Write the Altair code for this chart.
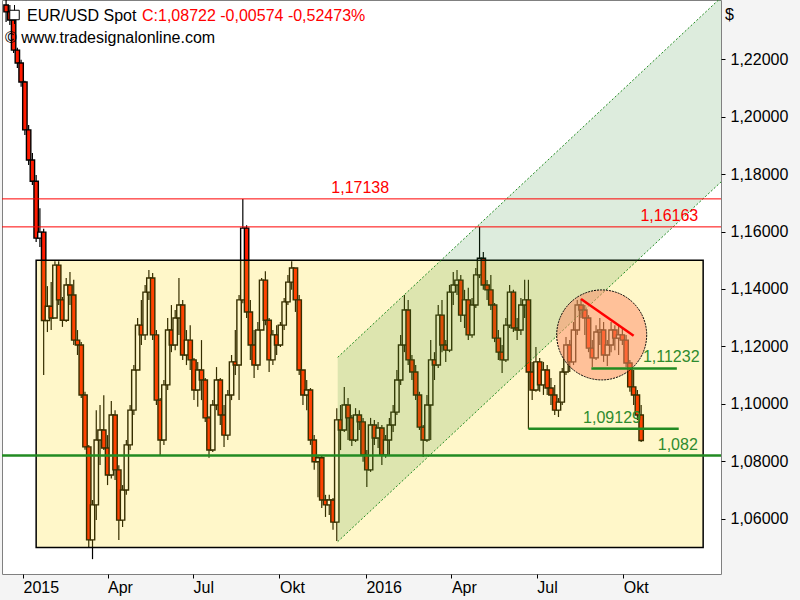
import altair as alt
import pandas as pd

# ---------------- data ----------------
candle_start = "2014-12-14"
candle_step_days = 4
first_open = 1.2389
closes = [1.2365, 1.2337, 1.2232, 1.2187, 1.2121, 1.1954, 1.1849, 1.1775, 1.1577, 1.1598,
          1.1290, 1.1340, 1.1299, 1.1483, 1.1362, 1.1291, 1.1414, 1.1379, 1.1222, 1.1205,
          1.1031, 1.0850, 1.0526, 1.0648, 1.0874, 1.0909, 1.0846, 1.0752, 1.0961, 1.0770,
          1.0595, 1.0700, 1.0857, 1.0978, 1.1118, 1.1274, 1.1240, 1.1389, 1.1438, 1.1240,
          1.1013, 1.0874, 1.1066, 1.1257, 1.1205, 1.1299, 1.1344, 1.1170, 1.1222, 1.1153,
          1.1048, 1.1118, 1.1083, 1.0951, 1.0839, 1.0996, 1.1083, 1.0961, 1.0891, 1.1031,
          1.1146, 1.1135, 1.1362, 1.1612, 1.1320, 1.1205, 1.1135, 1.1257, 1.1431, 1.1291,
          1.1153, 1.1240, 1.1205, 1.1274, 1.1355, 1.1424, 1.1473, 1.1362, 1.1118, 1.1031,
          1.1048, 1.0874, 1.0798, 1.0812, 1.0665, 1.0648, 1.0665, 1.0588, 1.0944, 1.0909,
          1.0996, 1.0951, 1.0874, 1.0961, 1.0937, 1.0822, 1.0770, 1.0926, 1.0881, 1.0916,
          1.0822, 1.0874, 1.0926, 1.0971, 1.1083, 1.1205, 1.1327, 1.1153, 1.1111, 1.1031,
          1.0919, 1.0874, 1.0996, 1.1153, 1.1135, 1.1309, 1.1205, 1.1187, 1.1389, 1.1414,
          1.1431, 1.1309, 1.1362, 1.1240, 1.1344, 1.1449, 1.1507, 1.1414, 1.1397, 1.1344,
          1.1229, 1.1180, 1.1153, 1.1274, 1.1389, 1.1264, 1.1257, 1.1344, 1.1362, 1.1111,
          1.1048, 1.1146, 1.1066, 1.1118, 1.1055, 1.1031, 1.0978, 1.1006, 1.1111, 1.1205,
          1.1146, 1.1257, 1.1344, 1.1327, 1.1299, 1.1194, 1.1160, 1.1250, 1.1257, 1.1170,
          1.1205, 1.1257, 1.1229, 1.1240, 1.1222, 1.1142, 1.1059, 1.1031, 1.0961, 1.08722]
highs = [1.2407, 1.2389, 1.2345, 1.2240, 1.2198, 1.2125, 1.1971, 1.1874, 1.1797, 1.1681,
         1.1610, 1.1410, 1.1424, 1.1497, 1.1497, 1.1372, 1.1438, 1.1459, 1.1432, 1.1257,
         1.1215, 1.1042, 1.0857, 1.0665, 1.0978, 1.0996, 1.1030, 1.0891, 1.1010, 1.0978,
         1.0786, 1.0717, 1.0874, 1.0996, 1.1135, 1.1299, 1.1362, 1.1414, 1.1466, 1.1456,
         1.1257, 1.1020, 1.1083, 1.1299, 1.1344, 1.1327, 1.1438, 1.1362, 1.1257, 1.1274,
         1.1160, 1.1146, 1.1222, 1.1090, 1.0958, 1.1013, 1.1128, 1.1090, 1.0996, 1.1048,
         1.1170, 1.1257, 1.1379, 1.17138, 1.1622, 1.1362, 1.1257, 1.1285, 1.1438, 1.1462,
         1.1299, 1.1257, 1.1274, 1.1285, 1.1369, 1.1449, 1.1497, 1.1473, 1.1379, 1.1118,
         1.1083, 1.1055, 1.0891, 1.0822, 1.0822, 1.0683, 1.0683, 1.0672, 1.0985, 1.0996,
         1.1059, 1.1020, 1.0961, 1.0985, 1.0978, 1.0951, 1.0839, 1.0951, 1.0944, 1.0937,
         1.0926, 1.0891, 1.0951, 1.0996, 1.1118, 1.1240, 1.1379, 1.1362, 1.1170, 1.1135,
         1.1042, 1.0926, 1.1031, 1.1222, 1.1180, 1.1344, 1.1362, 1.1222, 1.1414, 1.1459,
         1.1466, 1.1449, 1.1397, 1.1404, 1.1369, 1.1473, 1.16163, 1.1529, 1.1431, 1.1449,
         1.1351, 1.1257, 1.1205, 1.1299, 1.1414, 1.1397, 1.1299, 1.1369, 1.1432, 1.1432,
         1.1146, 1.1198, 1.1160, 1.1146, 1.1135, 1.1090, 1.1066, 1.1020, 1.1125, 1.1233,
         1.1222, 1.1285, 1.1362, 1.1366, 1.1344, 1.1309, 1.1222, 1.1274, 1.1299, 1.1285,
         1.1222, 1.1285, 1.1274, 1.1274, 1.1264, 1.1240, 1.1153, 1.1118, 1.1048, 1.0996]
lows = [1.2330, 1.2319, 1.2222, 1.2170, 1.2104, 1.1936, 1.1832, 1.1762, 1.1564, 1.1546,
        1.1100, 1.1250, 1.1257, 1.1299, 1.1344, 1.1268, 1.1285, 1.1344, 1.1205, 1.1170,
        1.1020, 1.0840, 1.0498, 1.0459, 1.0595, 1.0787, 1.0839, 1.0717, 1.0740, 1.0735,
        1.0526, 1.0571, 1.0683, 1.0839, 1.0961, 1.1118, 1.1205, 1.1222, 1.1362, 1.1222,
        1.0996, 1.0822, 1.0857, 1.1048, 1.1180, 1.1187, 1.1240, 1.1153, 1.1135, 1.1118,
        1.1013, 1.0990, 1.1013, 1.0937, 1.0812, 1.0832, 1.0978, 1.0926, 1.0850, 1.0874,
        1.1013, 1.1100, 1.1013, 1.1350, 1.1299, 1.1153, 1.1090, 1.1118, 1.1257, 1.1274,
        1.1111, 1.1135, 1.1170, 1.1198, 1.1257, 1.1344, 1.1397, 1.1320, 1.1100, 1.0996,
        1.0978, 1.0857, 1.0770, 1.0675, 1.0637, 1.0606, 1.0613, 1.0561, 1.0522, 1.0839,
        1.0902, 1.0874, 1.0853, 1.0867, 1.0909, 1.0798, 1.0710, 1.0763, 1.0857, 1.0846,
        1.0787, 1.0812, 1.0822, 1.0902, 1.0961, 1.1066, 1.1180, 1.1135, 1.1083, 1.1013,
        1.0909, 1.0815, 1.0867, 1.0874, 1.1083, 1.1125, 1.1180, 1.1146, 1.1180, 1.1344,
        1.1379, 1.1285, 1.1264, 1.1222, 1.1230, 1.1334, 1.1438, 1.1397, 1.1362, 1.1327,
        1.1215, 1.1153, 1.1107, 1.1146, 1.1264, 1.1250, 1.1222, 1.1240, 1.1299, 1.09129,
        1.1013, 1.1042, 1.1042, 1.1031, 1.1031, 1.0996, 1.0961, 1.0954, 1.0996, 1.1100,
        1.1111, 1.1135, 1.1240, 1.1299, 1.1240, 1.1180, 1.1128, 1.1153, 1.1205, 1.1146,
        1.1132, 1.1180, 1.1187, 1.1170, 1.1205, 1.1128, 1.1042, 1.0996, 1.0944, 1.0867]

box_dates = ["2015-01-15", "2016-12-25"]
box_values = [1.05, 1.15]

channel_dates = ["2015-12-02", "2017-01-15"]
channel_lower = [1.0520, 1.1779]
channel_upper = [1.1162, 1.2421]

red_levels = [1.17138, 1.16163]
green_level_full = 1.082
green_seg_values = [1.11232, 1.09129]
green_seg_start = ["2016-08-28", "2016-06-22"]
green_seg_end = ["2016-11-27", "2016-11-29"]

trend_dates = ["2016-08-17", "2016-10-12"]
trend_values = [1.1365, 1.1237]

circle_date = "2016-09-08"
circle_value = 1.1240

label_texts = ["1,17138", "1,16163", "1,11232", "1,09129", "1,082"]
label_dates = ["2015-12-26", "2016-11-19", "2016-11-21", "2016-09-19", "2016-11-28"]
label_values = [1.17138, 1.16163, 1.11232, 1.09129, 1.082]
label_colors = ["#ff0000", "#ff0000", "#2e8b2e", "#2e8b2e", "#2e8b2e"]

x_tick_dates = ["2015-01-01", "2015-04-01", "2015-07-01", "2015-10-01",
                "2016-01-01", "2016-04-01", "2016-07-01", "2016-10-01"]
x_tick_labels = ["2015", "Apr", "Jul", "Okt", "2016", "Apr", "Jul", "Okt"]
y_ticks = [1.06, 1.08, 1.10, 1.12, 1.14, 1.16, 1.18, 1.20, 1.22]

title_name = "EUR/USD Spot"
title_quote = "C:1,08722 -0,00574 -0,52473%"
source_text = "\u00a9 www.tradesignalonline.com"

# ---------------- build tables ----------------
REF = pd.Timestamp("2015-01-01")


def dnum(s):
    return float((pd.Timestamp(s) - REF).days)


dates = pd.date_range(candle_start, periods=len(closes), freq=f"{candle_step_days}D")
opens = [first_open] + closes[:-1]
candles = pd.DataFrame({
    "day": [float((d - REF).days) for d in dates],
    "open": opens,
    "close": closes,
    "high": [max(h, o, c) for h, o, c in zip(highs, opens, closes)],
    "low": [min(l, o, c) for l, o, c in zip(lows, opens, closes)],
})
candles["bot"] = candles[["open", "close"]].min(axis=1)
candles["top"] = candles[["open", "close"]].max(axis=1)

xs = alt.Scale(domain=[-22.35, 743.0], nice=False, zero=False, padding=0)
ys = alt.Scale(domain=[1.04073, 1.24065], nice=False, zero=False, padding=0)

tick_days = [dnum(s) for s in x_tick_dates]
x_label_expr = "[" + ",".join("'%s'" % t for t in x_tick_labels) + "][indexof([" + \
    ",".join("%g" % d for d in tick_days) + "], datum.value)]"

FONT = "Liberation Sans"

x_axis = alt.Axis(values=tick_days, labelExpr=x_label_expr, orient="bottom",
                  tickSize=4, tickColor="#000000", labelAlign="left", labelBaseline="top",
                  labelPadding=1, labelFontSize=16, labelFont=FONT, labelColor="#000000",
                  domain=False, grid=False, title=None, labelOverlap=False, labelFlush=False)
y_axis = alt.Axis(values=y_ticks, orient="right", labelExpr="replace(format(datum.value, '.5f'), '.', ',')",
                  tickSize=4, tickColor="#000000", labelPadding=5, labelFontSize=16, labelFont=FONT,
                  labelColor="#000000", domain=False, grid=False, title=None, labelOverlap=False)


def X(f):
    return alt.X(f, type="quantitative", scale=xs, axis=x_axis)


def Y(f):
    return alt.Y(f, type="quantitative", scale=ys, axis=y_axis)


# candles
wicks = alt.Chart(candles).mark_rule(color="#000000", strokeWidth=1.2, clip=True).encode(
    x=X("day"), y=Y("low"), y2="high")
bodies = alt.Chart(candles).mark_bar(size=4.4, stroke="#000000", strokeWidth=1.4, clip=True).encode(
    x=X("day"), y=Y("bot"), y2="top",
    fill=alt.condition("datum.close < datum.open", alt.value("#ff1a00"), alt.value("#ffffff")))

# yellow box (semi-transparent overlay)
box_df = pd.DataFrame({"x1": [dnum(box_dates[0])], "x2": [dnum(box_dates[1])],
                       "y1": [box_values[0]], "y2": [box_values[1]]})
box = alt.Chart(box_df).mark_rect(fill="#ffd700", fillOpacity=0.21, stroke="#000000",
                                  strokeWidth=1.5, clip=True).encode(
    x=X("x1"), x2="x2", y=Y("y1"), y2="y2")

# channel
ch_df = pd.DataFrame({"day": [dnum(s) for s in channel_dates], "lo": channel_lower, "hi": channel_upper})
channel = alt.Chart(ch_df).mark_area(color="#2e8b2e", opacity=0.16, clip=True).encode(
    x=X("day"), y=Y("lo"), y2="hi")
ch_lo = alt.Chart(ch_df).mark_line(color="#228b22", strokeWidth=1, strokeDash=[2, 2], clip=True).encode(
    x=X("day"), y=Y("lo"))
ch_hi = alt.Chart(ch_df).mark_line(color="#228b22", strokeWidth=1, strokeDash=[2, 2], clip=True).encode(
    x=X("day"), y=Y("hi"))

# circle
circ_df = pd.DataFrame({"day": [dnum(circle_date)], "v": [circle_value]})
circle = alt.Chart(circ_df).mark_point(shape="circle", size=8100, filled=True, fill="#ff8c69",
                                       fillOpacity=0.5, stroke="#000000", strokeWidth=1,
                                       strokeDash=[2, 1]).encode(x=X("day"), y=Y("v"))

# horizontal levels
red_df = pd.DataFrame({"v": red_levels})
red_lines = alt.Chart(red_df).mark_rule(color="#ff0000", strokeWidth=1).encode(y=Y("v"))
green_df = pd.DataFrame({"v": [green_level_full]})
green_line = alt.Chart(green_df).mark_rule(color="#228b22", strokeWidth=2.5).encode(y=Y("v"))
seg_df = pd.DataFrame({"x1": [dnum(s) for s in green_seg_start], "x2": [dnum(s) for s in green_seg_end],
                       "v": green_seg_values})
green_segs = alt.Chart(seg_df).mark_rule(color="#228b22", strokeWidth=2.5).encode(
    x=X("x1"), x2="x2", y=Y("v"))

trend_df = pd.DataFrame({"day": [dnum(s) for s in trend_dates], "v": trend_values})
trend = alt.Chart(trend_df).mark_line(color="#ff0000", strokeWidth=2.5).encode(x=X("day"), y=Y("v"))

lab_df = pd.DataFrame({"day": [dnum(s) for s in label_dates], "v": label_values,
                       "t": label_texts, "c": label_colors})
labels = alt.Chart(lab_df).mark_text(font=FONT, fontSize=16, align="center", baseline="bottom", dy=-3).encode(
    x=X("day"), y=Y("v"), text="t:N", color=alt.Color("c:N", scale=None))

# header texts (pixel positions relative to plot area)
hdr = pd.DataFrame({"t": [title_name]})
t1 = alt.Chart(hdr).mark_text(font=FONT, fontSize=16, align="left", baseline="alphabetic",
                              color="#000000").encode(x=alt.value(25), y=alt.value(21), text="t:N")
hdr2 = pd.DataFrame({"t": [title_quote]})
t2 = alt.Chart(hdr2).mark_text(font=FONT, fontSize=16, align="left", baseline="alphabetic",
                               color="#ff0000").encode(x=alt.value(140), y=alt.value(21), text="t:N")
hdr3 = pd.DataFrame({"t": [source_text]})
t3 = alt.Chart(hdr3).mark_text(font=FONT, fontSize=16, align="left", baseline="alphabetic",
                               color="#000000").encode(x=alt.value(3), y=alt.value(43), text="t:N")
icon_df = pd.DataFrame({"a": [0]})
icon_rule = alt.Chart(icon_df).mark_rule(color="#000000", strokeWidth=1).encode(
    x=alt.value(12.5), y=alt.value(5), y2=alt.value(24))
icon_box = alt.Chart(icon_df).mark_point(shape="square", size=90, filled=True, fill="#ffffff",
                                         stroke="#000000", strokeWidth=1, opacity=1).encode(
    x=alt.value(12.5), y=alt.value(15))
dollar_df = pd.DataFrame({"t": ["$"]})
dollar = alt.Chart(dollar_df).mark_text(font=FONT, fontSize=16, align="left", baseline="alphabetic",
                                        color="#000000").encode(x=alt.value(723), y=alt.value(20), text="t:N")

chart = alt.layer(
    wicks, bodies, box, channel, ch_lo, ch_hi, circle,
    red_lines, green_line, green_segs, trend, labels,
    t1, t2, t3, icon_rule, icon_box, dollar
).properties(
    width=719, height=574,
    padding={"left": 2, "top": 0, "right": 79, "bottom": 26},
    autosize=alt.AutoSizeParams(type="none"),
    background="#f4f4f4",
).configure_view(
    stroke="#808080", strokeWidth=1, fill="#ffffff"
)

chart.save("out.html", embed_options={"renderer": "svg", "actions": False})
